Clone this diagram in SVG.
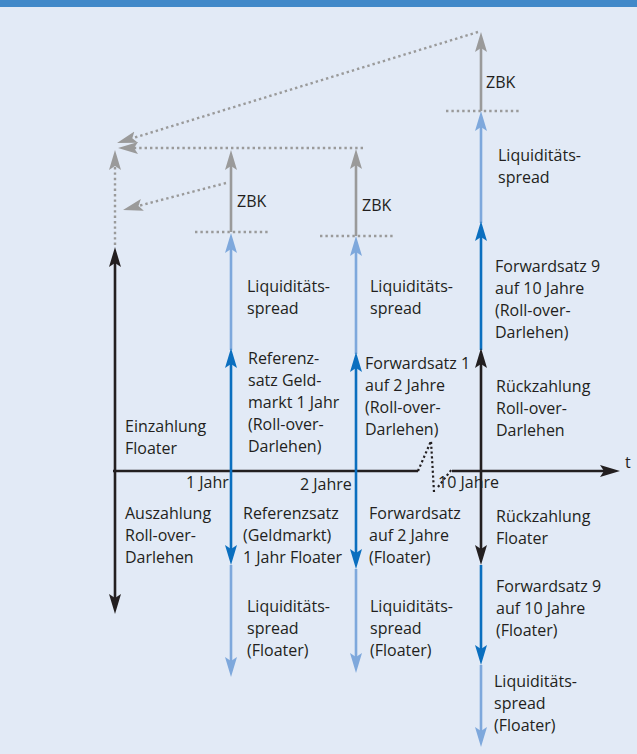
<svg xmlns="http://www.w3.org/2000/svg" width="637" height="754" viewBox="0 0 637 754">
<style>
.lbl{font-family:"Open Sans","Liberation Sans",sans-serif;font-size:16px;fill:#231f20}
.blk{stroke:#231f20;stroke-width:2.6;fill:none}
.dbl{stroke:#0b6fbf;stroke-width:2.6;fill:none}
.lbl-b{stroke:#7ea8dc;stroke-width:2.6;fill:none}
.gry{stroke:#9a9a9a;stroke-width:2.6;fill:none}
.dot{stroke:#9a9a9a;stroke-width:2.4;stroke-dasharray:2.4 3;fill:none}
.dotk{stroke:#231f20;stroke-width:2.2;stroke-dasharray:2.2 2.6;fill:none}
</style>
<defs>
<marker id="mk" viewBox="0 -7 21 14" refX="4" refY="0" markerWidth="21" markerHeight="14" markerUnits="userSpaceOnUse" orient="auto"><path d="M20,0 L0,-6 L4,0 L0,6 Z" fill="#231f20"/></marker>
<marker id="mb" viewBox="0 -7 21 14" refX="4" refY="0" markerWidth="21" markerHeight="14" markerUnits="userSpaceOnUse" orient="auto"><path d="M20,0 L0,-6 L4,0 L0,6 Z" fill="#0b6fbf"/></marker>
<marker id="ml" viewBox="0 -7 21 14" refX="4" refY="0" markerWidth="21" markerHeight="14" markerUnits="userSpaceOnUse" orient="auto"><path d="M20,0 L0,-6 L4,0 L0,6 Z" fill="#7ea8dc"/></marker>
<marker id="mg" viewBox="0 -7 21 14" refX="4" refY="0" markerWidth="21" markerHeight="14" markerUnits="userSpaceOnUse" orient="auto"><path d="M20,0 L0,-6 L4,0 L0,6 Z" fill="#9a9a9a"/></marker>
</defs>
<rect x="0" y="0" width="637" height="754" fill="#e2eaf6"/>
<rect x="0" y="0" width="637" height="7" fill="#4189c9"/>

<g id="connectors">
<!-- time axis -->
<line class="blk" x1="113" y1="471" x2="418" y2="471"/>
<line class="blk" x1="452" y1="471" x2="604" y2="471" marker-end="url(#mk)"/>
<path class="dotk" d="M418,471 L431,441 L434,492 M438,487 L452,469"/>
<!-- left column -->
<line class="blk" x1="115" y1="471" x2="115" y2="263" marker-end="url(#mk)"/>
<line class="blk" x1="115" y1="471" x2="115" y2="598" marker-end="url(#mk)"/>
<line class="dot" x1="115" y1="245" x2="115" y2="166" marker-end="url(#mg)"/>
<!-- dotted feedback lines -->
<line class="dot" x1="478" y1="32" x2="132.3" y2="138.3" marker-end="url(#mg)"/>
<line class="dot" x1="363" y1="148" x2="134" y2="148" marker-end="url(#mg)"/>
<line class="dot" x1="226" y1="183" x2="138.5" y2="205.9" marker-end="url(#mg)"/>
<!-- dotted level lines -->
<line class="dot" x1="195" y1="232" x2="269" y2="232"/>
<line class="dot" x1="320" y1="236" x2="393" y2="236"/>
<line class="dot" x1="446" y1="111" x2="520" y2="111"/>
<!-- column 1 -->
<line class="gry" x1="231" y1="232" x2="231" y2="166" marker-end="url(#mg)"/>
<line class="lbl-b" x1="231" y1="350" x2="231" y2="249" marker-end="url(#ml)"/>
<line class="dbl" x1="231" y1="471" x2="231" y2="364" marker-end="url(#mb)"/>
<line class="dbl" x1="231" y1="471" x2="231" y2="549" marker-end="url(#mb)"/>
<line class="lbl-b" x1="231" y1="565" x2="231" y2="661" marker-end="url(#ml)"/>
<!-- column 2 -->
<line class="gry" x1="356" y1="236" x2="356" y2="165" marker-end="url(#mg)"/>
<line class="lbl-b" x1="356" y1="354" x2="356" y2="252" marker-end="url(#ml)"/>
<line class="dbl" x1="356" y1="471" x2="356" y2="368" marker-end="url(#mb)"/>
<line class="dbl" x1="356" y1="471" x2="356" y2="553" marker-end="url(#mb)"/>
<line class="lbl-b" x1="356" y1="569" x2="356" y2="657" marker-end="url(#ml)"/>
<!-- column 3 -->
<line class="gry" x1="481" y1="111" x2="481" y2="48" marker-end="url(#mg)"/>
<line class="lbl-b" x1="481" y1="223" x2="481" y2="127" marker-end="url(#ml)"/>
<line class="dbl" x1="481" y1="350" x2="481" y2="237" marker-end="url(#mb)"/>
<line class="blk" x1="481" y1="471" x2="481" y2="364" marker-end="url(#mk)"/>
<line class="blk" x1="481" y1="471" x2="481" y2="549" marker-end="url(#mk)"/>
<line class="dbl" x1="481" y1="565" x2="481" y2="649" marker-end="url(#mb)"/>
<line class="lbl-b" x1="481" y1="665" x2="481" y2="731" marker-end="url(#ml)"/>
</g>

<g id="axis-labels">
<text class="lbl" x="186" y="488">1 Jahr</text>
<text class="lbl" x="300" y="490">2 Jahre</text>
<text class="lbl" x="438" y="488">10 Jahre</text>
<text class="lbl" x="625" y="468">t</text>
</g>

<g id="left">
<text class="lbl" x="125" y="432">Einzahlung<tspan x="125" y="454">Floater</tspan></text>
<text class="lbl" x="125" y="519">Auszahlung<tspan x="125" y="541">Roll-over-</tspan><tspan x="125" y="563">Darlehen</tspan></text>
</g>

<g id="col1">
<text class="lbl" x="237" y="207">ZBK</text>
<text class="lbl" x="247" y="292">Liquiditäts-<tspan x="247" y="314">spread</tspan></text>
<text class="lbl" x="248" y="364">Referenz-<tspan x="248" y="386">satz Geld-</tspan><tspan x="248" y="408">markt 1 Jahr</tspan><tspan x="248" y="430">(Roll-over-</tspan><tspan x="248" y="452">Darlehen)</tspan></text>
<text class="lbl" x="243" y="519">Referenzsatz<tspan x="243" y="541">(Geldmarkt)</tspan><tspan x="243" y="563">1 Jahr Floater</tspan></text>
<text class="lbl" x="247" y="612">Liquiditäts-<tspan x="247" y="634">spread</tspan><tspan x="247" y="656">(Floater)</tspan></text>
</g>

<g id="col2">
<text class="lbl" x="362" y="211">ZBK</text>
<text class="lbl" x="370" y="292">Liquiditäts-<tspan x="370" y="314">spread</tspan></text>
<text class="lbl" x="365" y="369">Forwardsatz 1<tspan x="365" y="391">auf 2 Jahre</tspan><tspan x="365" y="413">(Roll-over-</tspan><tspan x="365" y="435">Darlehen)</tspan></text>
<text class="lbl" x="369" y="519">Forwardsatz<tspan x="369" y="541">auf 2 Jahre</tspan><tspan x="369" y="563">(Floater)</tspan></text>
<text class="lbl" x="370" y="612">Liquiditäts-<tspan x="370" y="634">spread</tspan><tspan x="370" y="656">(Floater)</tspan></text>
</g>

<g id="col3">
<text class="lbl" x="486" y="88">ZBK</text>
<text class="lbl" x="498" y="161">Liquiditäts-<tspan x="498" y="183">spread</tspan></text>
<text class="lbl" x="495" y="272">Forwardsatz 9<tspan x="495" y="294">auf 10 Jahre</tspan><tspan x="495" y="316">(Roll-over-</tspan><tspan x="495" y="338">Darlehen)</tspan></text>
<text class="lbl" x="496" y="392">Rückzahlung<tspan x="496" y="414">Roll-over-</tspan><tspan x="496" y="436">Darlehen</tspan></text>
<text class="lbl" x="496" y="522">Rückzahlung<tspan x="496" y="544">Floater</tspan></text>
<text class="lbl" x="496" y="592">Forwardsatz 9<tspan x="496" y="614">auf 10 Jahre</tspan><tspan x="496" y="636">(Floater)</tspan></text>
<text class="lbl" x="494" y="687">Liquiditäts-<tspan x="494" y="709">spread</tspan><tspan x="494" y="731">(Floater)</tspan></text>
</g>
</svg>
